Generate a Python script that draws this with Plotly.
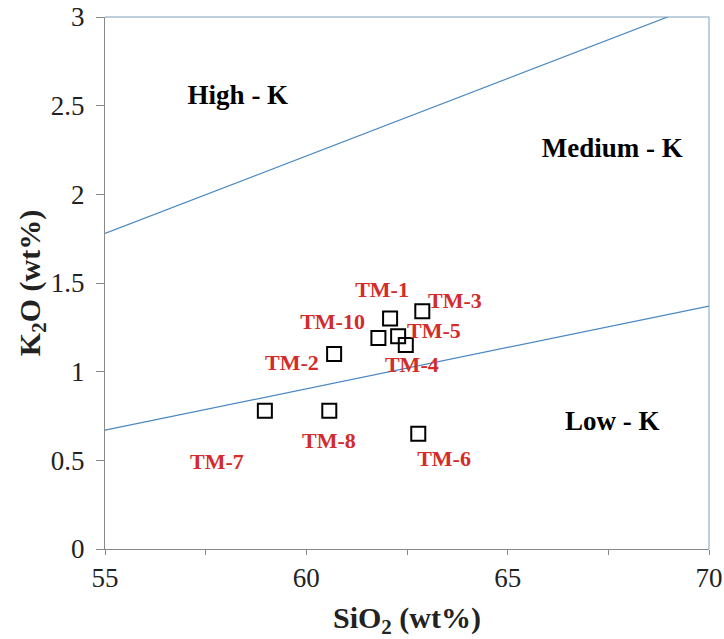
import plotly.graph_objects as go

# Sample data (SiO2, K2O)
samples = ["TM-1", "TM-3", "TM-10", "TM-5", "TM-4", "TM-2", "TM-8", "TM-6", "TM-7"]
sio2 = [62.08, 62.88, 61.79, 62.28, 62.47, 60.69, 60.57, 62.78, 58.97]
k2o = [1.30, 1.34, 1.19, 1.20, 1.15, 1.10, 0.78, 0.65, 0.78]

# Label anchor positions (data coords)
label_x = [61.88, 63.69, 60.65, 63.17, 62.62, 59.64, 60.56, 63.42, 57.78]
label_y = [1.45, 1.39, 1.27, 1.22, 1.03, 1.04, 0.60, 0.50, 0.48]

# Boundary lines
high_med_x = [55, 70]
high_med_y = [1.78, 3.09]
med_low_x = [55, 70]
med_low_y = [0.67, 1.37]

# Field names
field_names = ["High - K", "Medium - K", "Low - K"]
field_x = [58.3, 67.6, 67.6]
field_y = [2.55, 2.25, 0.71]

y_ticks = [0, 0.5, 1, 1.5, 2, 2.5, 3]
y_ticktext = ["0", "0.5", "1", "1.5", "2", "2.5", "3"]

SERIF = "Liberation Serif, Times New Roman, serif"
LINE_COL = "#4a88c2"

fig = go.Figure()
fig.add_trace(go.Scatter(x=high_med_x, y=high_med_y, mode="lines",
                         line=dict(color=LINE_COL, width=1.2), hoverinfo="skip"))
fig.add_trace(go.Scatter(x=med_low_x, y=med_low_y, mode="lines",
                         line=dict(color=LINE_COL, width=1.2), hoverinfo="skip"))
fig.add_trace(go.Scatter(x=sio2, y=k2o, mode="markers",
                         marker=dict(symbol="square-open", size=14, color="black",
                                     line=dict(width=2, color="black")),
                         text=samples))
fig.add_trace(go.Scatter(x=label_x, y=label_y, mode="text", text=samples,
                         textfont=dict(family=SERIF, size=22, color="#d42b2b", weight="bold"),
                         hoverinfo="skip"))
fig.add_trace(go.Scatter(x=field_x, y=field_y, mode="text", text=field_names,
                         textfont=dict(family=SERIF, size=27, color="black", weight="bold"),
                         hoverinfo="skip"))

fig.update_layout(
    width=724, height=639,
    margin=dict(l=105, r=15, t=17, b=90),
    paper_bgcolor="white", plot_bgcolor="white",
    showlegend=False,
    font=dict(family=SERIF, color="#222"),
    xaxis=dict(range=[55, 70], dtick=5, tick0=55, automargin=False,
               ticks="outside", ticklen=5, tickcolor="#888",
               minor=dict(dtick=2.5, tick0=55, ticks="outside", ticklen=5, tickcolor="#888"),
               showline=True, linecolor="#888", linewidth=1,
               showgrid=False, zeroline=False,
               tickfont=dict(family=SERIF, size=27, color="#222"),
               title=dict(text="<b>SiO<sub>2</sub> (wt%)</b>",
                          font=dict(family=SERIF, size=30, color="#222"), standoff=14)),
    yaxis=dict(range=[0, 3], tickvals=y_ticks, ticktext=y_ticktext, automargin=False,
               ticks="outside", ticklen=8, tickcolor="#888", ticklabelstandoff=6,
               showline=True, linecolor="#888", linewidth=1,
               showgrid=False, zeroline=False,
               tickfont=dict(family=SERIF, size=27, color="#222"),
               title=dict(text="<b>K<sub>2</sub>O (wt%)</b>",
                          font=dict(family=SERIF, size=30, color="#222"), standoff=0)),
    shapes=[
        dict(type="line", xref="paper", yref="paper", x0=0, x1=1, y0=1, y1=1,
             line=dict(color="#7f9fb8", width=1)),
        dict(type="line", xref="paper", yref="paper", x0=1, x1=1, y0=0, y1=1,
             line=dict(color="#7f9fb8", width=1)),
    ],
)

fig.write_html("out.html")
